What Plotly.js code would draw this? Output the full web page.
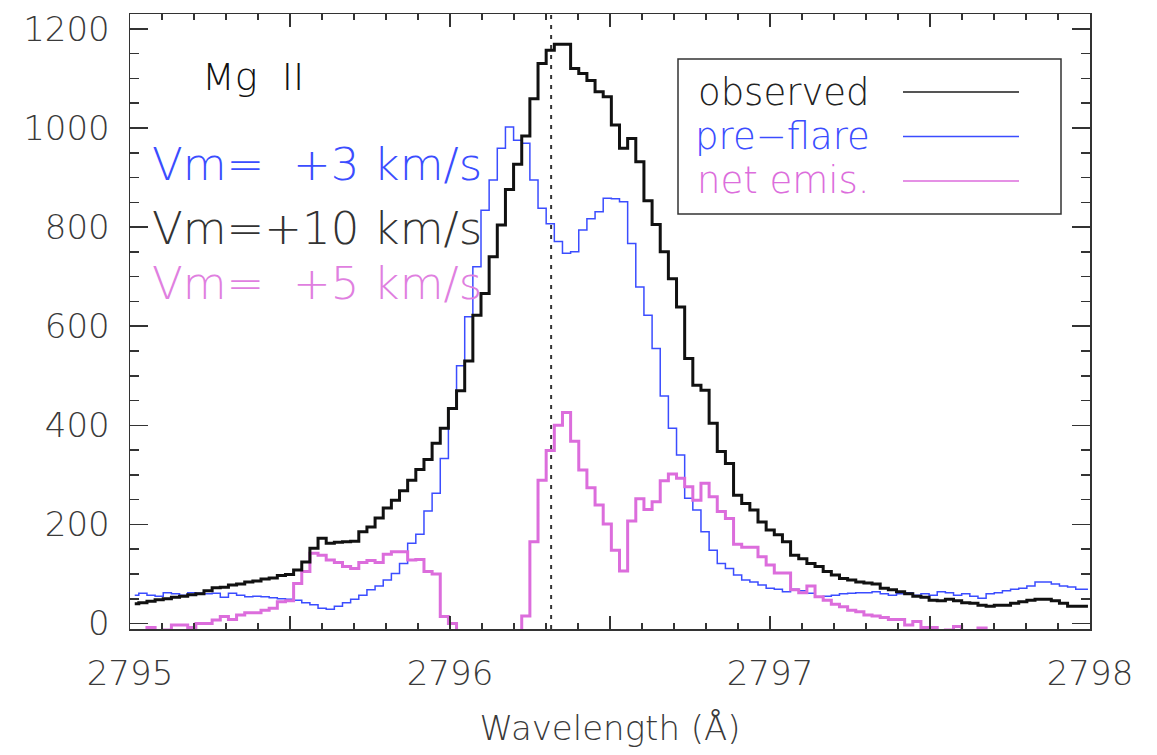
<!DOCTYPE html>
<html>
<head>
<meta charset="utf-8">
<script src="https://cdn.plot.ly/plotly-3.0.1.min.js"></script>
<style>
    html, body { margin: 0; padding: 0; background: #fff; }
    #plotElement { width: 1157px; height: 755px; }
</style>
</head>
<body>
<div id="plotElement"></div>
<script>
// IRIS NUV sampling: first bin centre and bin width (Angstrom)
const lambdaStart = 2795.0148;
const lambdaStep = 0.02546;

const observed = [
    40, 42, 45, 48, 50, 53, 55, 58, 60, 66,
    72, 73, 78, 80, 84, 86, 90, 92, 97, 99,
    108, 124, 152, 172, 162, 164, 165, 166, 185, 195,
    213, 233, 249, 268, 289, 311, 331, 364, 394, 434,
    470, 530, 622, 666, 740, 804, 876, 927, 984, 1059,
    1130, 1157, 1169, 1169, 1120, 1110, 1096, 1073, 1063, 1006,
    959, 979, 932, 853, 805, 750, 696, 639, 535, 481,
    471, 404, 347, 323, 259, 242, 229, 205, 189, 179,
    165, 138, 131, 121, 115, 105, 98, 91, 88, 84,
    82, 80, 71, 68, 64, 60, 55, 53, 47, 46,
    49, 46, 42, 41, 37, 35, 37, 37, 41, 44,
    47, 49, 49, 46, 41, 35, 35, 35
];

const preFlare = [
    57, 61, 57, 55, 62, 60, 57, 62, 61, 60,
    61, 53, 61, 57, 54, 55, 54, 52, 50, 49,
    47, 42, 38, 31, 29, 35, 42, 49, 57, 68,
    76, 88, 101, 121, 162, 180, 227, 263, 333, 434,
    520, 619, 720, 834, 895, 959, 1002, 975, 969, 895,
    838, 807, 771, 747, 750, 794, 817, 831, 858, 857,
    851, 767, 679, 622, 555, 459, 394, 340, 253, 229,
    185, 148, 121, 111, 98, 88, 84, 78, 71, 69,
    64, 69, 66, 61, 54, 55, 57, 60, 61, 62,
    62, 64, 60, 57, 60, 62, 57, 60, 57, 64,
    62, 57, 60, 55, 51, 60, 62, 66, 69, 71,
    76, 84, 84, 80, 76, 74, 69, 69
];

const netEmission = [
    -20, -20, -8, -15, -13, -3, -3, -8, 0, 0,
    7, 14, 8, 17, 22, 22, 27, 31, 44, 46,
    81, 105, 142, 138, 128, 123, 115, 111, 123, 127,
    123, 140, 145, 145, 128, 129, 105, 100, 14, 0,
    -50, -90, -98, -168, -155, -155, -127, -47, 15, 165,
    289, 349, 400, 426, 368, 310, 274, 239, 201, 148,
    106, 207, 252, 230, 246, 288, 302, 293, 276, 249,
    283, 256, 226, 212, 160, 154, 154, 135, 118, 102,
    102, 68, 62, 76, 54, 47, 39, 34, 27, 24,
    17, 15, 12, 8, 8, -3, 4, -8, -8, -15,
    -13, -6, -14, -18, -9, -25, -25, -29, -28, -27,
    -29, -35, -35, -34, -35, -39, -34, -34
];

const restWavelength = 2796.316;
const xTickVals = [2795, 2795.5, 2796, 2796.5, 2797, 2797.5, 2798];
const xTickText = ['2795', '', '2796', '', '2797', '', '2798'];

const velocityLabels = ['Vm=\u00a0\u00a0+3 km/s', 'Vm=+10 km/s', 'Vm=\u00a0\u00a0+5 km/s'];
const legendLabels = ['observed', 'pre\u2212flare', 'net emis.'];

const colBlack = '#111111';
const colBlue = '#3b4dff';
const colMagenta = '#dc6ddc';
const textFont = 'DejaVu Sans, sans-serif';
const textWeight = 200;

const wave = observed.map((_, i) => lambdaStart + i * lambdaStep);

function stepTrace(y, color, width) {
    return {
        type: 'scatter',
        mode: 'lines',
        x: wave,
        y: y,
        line: { color: color, width: width, shape: 'hvh' },
        hoverinfo: 'skip',
        showlegend: false
    };
}

const data = [
    stepTrace(preFlare, colBlue, 1.5),
    stepTrace(netEmission, colMagenta, 3),
    stepTrace(observed, colBlack, 3)
];

// pixel -> paper helpers (plot box is 130..1090 x 14..629)
const px = v => (v - 130) / 960;
const py = v => (629 - v) / 615;

const seriesColours = [colBlack, colBlue, colMagenta];
const legendY = [92, 136.5, 181];
const velColours = [colBlue, '#333333', '#e07fe0'];
const velY = [165, 228, 283];

const annotations = [
    {
        xref: 'paper', yref: 'paper', x: px(200), y: py(77),
        xanchor: 'left', yanchor: 'middle', showarrow: false,
        text: 'Mg\u00a0\u00a0II', font: { family: textFont, size: 38, color: '#111', weight: textWeight }
    }
];
velocityLabels.forEach((t, i) => annotations.push({
    xref: 'paper', yref: 'paper', x: px(150), y: py(velY[i]),
    xanchor: 'left', yanchor: 'middle', showarrow: false,
    text: t, font: { family: textFont, size: 45, color: velColours[i], weight: textWeight }
}));
legendLabels.forEach((t, i) => annotations.push({
    xref: 'paper', yref: 'paper', x: px(872), y: py(legendY[i]),
    xanchor: 'right', yanchor: 'middle', showarrow: false,
    text: t, font: { family: textFont, size: 37, color: i === 0 ? '#222' : seriesColours[i], weight: textWeight }
}));

const shapes = [
    {
        type: 'line', xref: 'x', yref: 'paper', x0: restWavelength, x1: restWavelength, y0: 0, y1: 1,
        line: { color: '#333', width: 2, dash: '4px,6px' }
    },
    {
        type: 'rect', xref: 'paper', yref: 'paper', x0: px(678), x1: px(1061), y0: py(214), y1: py(59),
        line: { color: '#333', width: 1.5 }, fillcolor: 'rgba(0,0,0,0)'
    }
];
legendY.forEach((y, i) => shapes.push({
    type: 'line', xref: 'paper', yref: 'paper', x0: px(903), x1: px(1019), y0: py(y), y1: py(y),
    line: { color: i === 0 ? '#555' : seriesColours[i], width: i === 0 ? 2 : 1.5 }
}));

const axisCommon = {
    showline: true, linecolor: '#333', linewidth: 1.5, mirror: 'ticks',
    ticks: 'inside', tickcolor: '#333', tickwidth: 1.5,
    showgrid: false, zeroline: false,
    tickfont: { family: textFont, size: 34, color: '#3a3a3a', weight: textWeight }
};

const layout = {
    width: 1157,
    height: 755,
    margin: { l: 130, r: 67, t: 14, b: 126 },
    paper_bgcolor: '#fff',
    plot_bgcolor: '#fff',
    xaxis: Object.assign({}, axisCommon, {
        range: [2795, 2798],
        tickmode: 'array', tickvals: xTickVals, ticktext: xTickText,
        ticklen: 13, ticklabelstandoff: 14,
        minor: { dtick: 0.1, tick0: 2795, ticks: 'inside', ticklen: 6, tickwidth: 1.5, tickcolor: '#333', showgrid: false },
        title: { text: 'Wavelength (Å)', standoff: 24, font: { family: textFont, size: 34, color: '#3a3a3a', weight: textWeight } }
    }),
    yaxis: Object.assign({}, axisCommon, {
        range: [-11, 1230],
        tickmode: 'linear', tick0: 0, dtick: 200,
        ticklen: 18, ticklabelstandoff: 12,
        minor: { dtick: 50, tick0: 0, ticks: 'inside', ticklen: 9, tickwidth: 1.5, tickcolor: '#333', showgrid: false }
    }),
    shapes: shapes,
    annotations: annotations,
    showlegend: false
};

Plotly.newPlot('plotElement', data, layout, { staticPlot: true });
</script>
</body>
</html>
